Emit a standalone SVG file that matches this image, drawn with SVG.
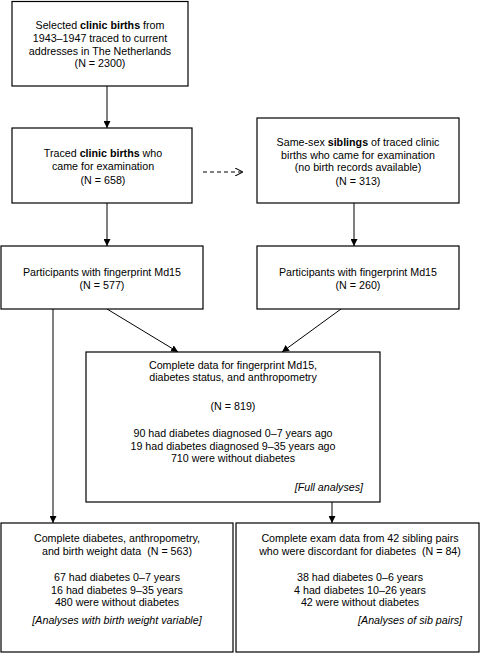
<svg xmlns="http://www.w3.org/2000/svg" width="481" height="662" viewBox="0 0 481 662">
<defs>
<marker id="ah" viewBox="0 0 10 10" refX="10" refY="5" markerWidth="7" markerHeight="7" markerUnits="userSpaceOnUse" orient="auto">
<path d="M0,0 L10,5 L0,10 z" fill="#000"/>
</marker>
<marker id="oh" viewBox="0 0 10 10" refX="10" refY="5" markerWidth="8" markerHeight="8" markerUnits="userSpaceOnUse" orient="auto">
<path d="M0,0 L10,5 L0,10" fill="none" stroke="#000" stroke-width="1.3"/>
</marker>
</defs>
<style>
.box{fill:#fff;stroke:#000;stroke-width:1.2}
text{font-family:"Liberation Sans",Arial,sans-serif;font-size:10.7px;fill:#000;text-anchor:middle}
.b{font-weight:bold}
.i{font-style:italic}
.r{text-anchor:end}
.c line{stroke:#000;stroke-width:1}
</style>
<rect width="481" height="662" fill="#fff"/>
<g class="c" id="connectors">
<line x1="107" y1="86" x2="107" y2="128" marker-end="url(#ah)"/>
<line x1="107" y1="203" x2="107" y2="246" marker-end="url(#ah)"/>
<line x1="354" y1="203" x2="354" y2="246" marker-end="url(#ah)"/>
<line x1="203" y1="172" x2="243" y2="172" stroke-dasharray="4,3" marker-end="url(#oh)"/>
<line x1="107" y1="309" x2="178" y2="352" marker-end="url(#ah)"/>
<line x1="341" y1="309" x2="282" y2="352" marker-end="url(#ah)"/>
<line x1="53" y1="309" x2="53" y2="523" marker-end="url(#ah)"/>
<line x1="332" y1="502" x2="332" y2="523" marker-end="url(#ah)"/>
</g>
<g id="n1">
<rect class="box" x="12" y="1.5" width="176" height="84.5"/>
<text x="100" y="29"><tspan>Selected </tspan><tspan class="b">clinic births</tspan><tspan> from</tspan></text>
<text x="100" y="42">1943–1947 traced to current</text>
<text x="100" y="55">addresses in The Netherlands</text>
<text x="100" y="67">(N = 2300)</text>
</g>
<g id="n2">
<rect class="box" x="12" y="128" width="180" height="75"/>
<text x="103" y="157"><tspan>Traced </tspan><tspan class="b">clinic births</tspan><tspan> who</tspan></text>
<text x="103" y="170">came for examination</text>
<text x="103" y="184">(N = 658)</text>
</g>
<g id="n3">
<rect class="box" x="257" y="118" width="202" height="85"/>
<text x="358" y="146"><tspan>Same-sex </tspan><tspan class="b">siblings</tspan><tspan> of traced clinic</tspan></text>
<text x="358" y="159">births who came for examination</text>
<text x="358" y="171">(no birth records available)</text>
<text x="358" y="185">(N = 313)</text>
</g>
<g id="n4">
<rect class="box" x="1" y="246" width="202" height="63"/>
<text x="102" y="276">Participants with fingerprint Md15</text>
<text x="102" y="289">(N = 577)</text>
</g>
<g id="n5">
<rect class="box" x="257" y="246" width="202" height="63"/>
<text x="358" y="276">Participants with fingerprint Md15</text>
<text x="358" y="289">(N = 260)</text>
</g>
<g id="n6">
<rect class="box" x="86" y="352" width="294" height="150"/>
<text x="233" y="369">Complete data for fingerprint Md15,</text>
<text x="233" y="381">diabetes status, and anthropometry</text>
<text x="233" y="410">(N = 819)</text>
<text x="233" y="437">90 had diabetes diagnosed 0–7 years ago</text>
<text x="233" y="450">19 had diabetes diagnosed 9–35 years ago</text>
<text x="233" y="462">710 were without diabetes</text>
<text x="363" y="491" class="i r">[Full analyses]</text>
</g>
<g id="n7">
<rect class="box" x="1" y="523" width="232" height="129"/>
<text x="117" y="542">Complete diabetes, anthropometry,</text>
<text x="117" y="555" xml:space="preserve">and birth weight data  (N = 563)</text>
<text x="117" y="581">67 had diabetes 0–7 years</text>
<text x="117" y="594">16 had diabetes 9–35 years</text>
<text x="117" y="606">480 were without diabetes</text>
<text x="117" y="624" class="i">[Analyses with birth weight variable]</text>
</g>
<g id="n8">
<rect class="box" x="236" y="523" width="243" height="129"/>
<text x="360" y="542">Complete exam data from 42 sibling pairs</text>
<text x="360" y="555" xml:space="preserve">who were discordant for diabetes  (N = 84)</text>
<text x="360" y="581">38 had diabetes 0–6 years</text>
<text x="360" y="594">4 had diabetes 10–26 years</text>
<text x="360" y="606">42 were without diabetes</text>
<text x="462" y="624" class="i r">[Analyses of sib pairs]</text>
</g>
</svg>
